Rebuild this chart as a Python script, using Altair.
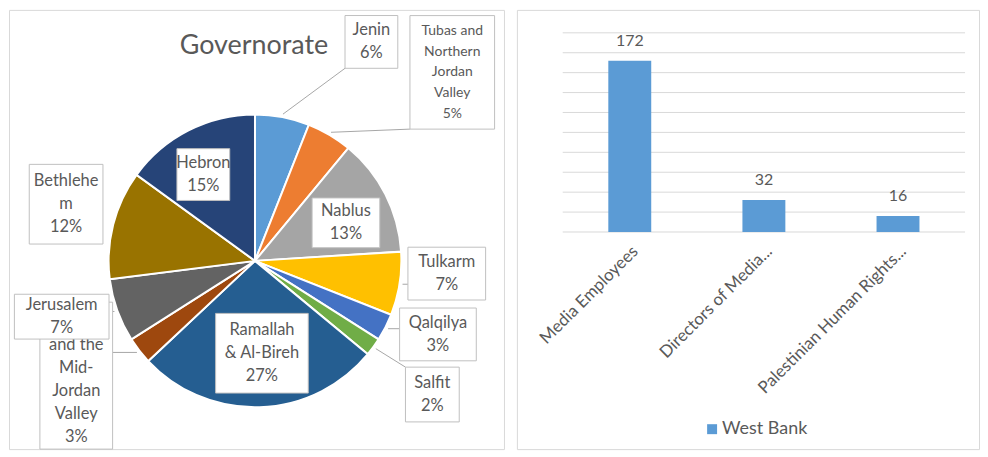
import altair as alt
import pandas as pd

# ---------------- data ----------------
gov_names = ["Jenin", "Tubas and Northern Jordan Valley", "Nablus", "Tulkarm", "Qalqilya", "Salfit",
             "Ramallah & Al-Bireh", "Jericho and the Mid-Jordan Valley", "Jerusalem", "Bethlehem", "Hebron"]
gov_pct = [6, 5, 13, 7, 3, 2, 27, 3, 7, 12, 15]
# label lines as shown (the first line of the Jericho label is hidden behind the Jerusalem box)
gov_label_text = ["Jenin", "Tubas and\nNorthern\nJordan\nValley", "Nablus", "Tulkarm", "Qalqilya", "Salfit",
                  "Ramallah\n& Al-Bireh", " \nand the\nMid-\nJordan\nValley", "Jerusalem", "Bethlehe\nm", "Hebron"]
gov_colors = ["#5B9BD5", "#ED7D31", "#A5A5A5", "#FFC000", "#4472C4", "#70AD47",
              "#255E91", "#9E480E", "#636363", "#997300", "#264478"]

bar_categories = ["Media Employees", "Directors of Media...", "Palestinian Human Rights..."]
bar_values = [172, 32, 16]
bar_series = "West Bank"
grid_ticks = [0, 20, 40, 60, 80, 100, 120, 140, 160, 180, 200]

# ---------------- layout (not data) ----------------
CX, CY, PIE_R = 247, 252, 147
lab_radius = [249, 274, 99, 193, 198, 223, 93, 215.6, 202, 198, 101]
lab_shift = [17.2, 15.7, 4.3, -5.2, -5.1, 1.0, -2.5, 4.15, 3.7, 2.3, -3.9]
box_w = [53, 85, 68, 78, 77, 54, 93, 73, 95, 74, 53]
box_h = [53, 114, 50, 53, 53, 55, 80, 156, 45, 80, 52]
has_leader = [1, 1, 0, 1, 1, 1, 0, 1, 1, 0, 0]

FONT = "Lato"
TXT = "#595959"
H = 441

labels = [f"{t}\n{p}%" for t, p in zip(gov_label_text, gov_pct)]
pie_df = pd.DataFrame({
    "idx": list(range(len(gov_names))),
    "name": gov_names,
    "pct": gov_pct,
    "label": labels,
    "nl": [s.count("\n") + 1 for s in labels],
    "r": lab_radius, "shift": lab_shift, "w": box_w, "h": box_h, "leader": has_leader,
})

pie_base = alt.Chart(pie_df).transform_window(
    cum="sum(pct)", sort=[alt.SortField("idx")], frame=[None, 0]
).transform_calculate(
    mid="(datum.cum - datum.pct / 2) * 3.6"
).transform_calculate(
    lrad="(datum.mid + datum.shift) * PI / 180",
    mrad="datum.mid * PI / 180",
).transform_calculate(
    bx=f"{CX} + datum.r * sin(datum.lrad)",
    by=f"{CY} - datum.r * cos(datum.lrad)",
    sx=f"{CX} + {PIE_R + 3} * sin(datum.mrad)",
    sy=f"{CY} - {PIE_R + 3} * cos(datum.mrad)",
).transform_calculate(
    x1="datum.bx - datum.w / 2", x2="datum.bx + datum.w / 2",
    y1="datum.by - datum.h / 2", y2=f"min(datum.by + datum.h / 2, {H})",
).transform_calculate(
    ex="clamp(datum.sx, datum.x1, datum.x2)",
    ey="clamp(datum.sy, datum.y1, datum.y2)",
)

title = alt.Chart(pd.DataFrame({"t": ["Governorate"]})).mark_text(
    font=FONT, fontSize=27, color=TXT, baseline="middle"
).encode(x=alt.value(246), y=alt.value(36), text="t:N")

arc = alt.Chart(pie_df).mark_arc(radius=PIE_R, stroke="white", strokeWidth=2).encode(
    theta=alt.Theta("pct:Q", stack=True),
    order=alt.Order("idx:Q"),
    color=alt.Color("name:N", scale=alt.Scale(domain=gov_names, range=gov_colors), legend=None),
    x=alt.value(CX), y=alt.value(CY),
)

leaders = pie_base.transform_filter("datum.leader == 1").mark_rule(color="#a6a6a6", strokeWidth=1).encode(
    x=alt.X("sx:Q", scale=None, axis=None), y=alt.Y("sy:Q", scale=None, axis=None),
    x2="ex:Q", y2="ey:Q",
)

def boxes(flt):
    return pie_base.transform_filter(flt).mark_rect(fill="white", stroke="#bfbfbf", strokeWidth=1).encode(
        x=alt.X("x1:Q", scale=None, axis=None), x2="x2:Q",
        y=alt.Y("y1:Q", scale=None, axis=None), y2="y2:Q",
    )

def texts(flt, size, lh):
    return pie_base.transform_filter(flt).transform_calculate(
        ty=f"datum.by - (datum.nl - 1) * {lh} / 2"
    ).mark_text(
        font=FONT, fontSize=size, lineHeight=lh, color=TXT, lineBreak="\n",
        align="center", baseline="middle",
    ).encode(
        x=alt.X("bx:Q", scale=None, axis=None), y=alt.Y("ty:Q", scale=None, axis=None), text="label:N",
    )

main_f = "datum.name != 'Jerusalem' && datum.idx != 1"
left = alt.layer(
    title, arc, leaders,
    boxes("datum.name != 'Jerusalem'"),
    texts(main_f, 16.5, 23),
    texts("datum.idx == 1", 14, 20.8),
    boxes("datum.name == 'Jerusalem'"),
    texts("datum.name == 'Jerusalem'", 16.5, 23),
).properties(width=497, height=H)

# ---------------- bar panel ----------------
bar_df = pd.DataFrame({"cat": bar_categories, "val": bar_values, "series": [bar_series] * len(bar_values)})
grid_df = pd.DataFrame({"v": grid_ticks})

xscale = alt.Scale(domain=bar_categories, range=[46, 450], paddingInner=0.68, paddingOuter=0.34)
yscale = alt.Scale(domain=[0, 200], range=[223, 23], nice=False)

grid = alt.Chart(grid_df).mark_rule(color="#d9d9d9", strokeWidth=1).encode(
    y=alt.Y("v:Q", scale=yscale, axis=None), x=alt.value(46), x2=alt.value(450),
)

bars = alt.Chart(bar_df).mark_bar().encode(
    x=alt.X("cat:N", scale=xscale, axis=None, sort=bar_categories),
    y=alt.Y("val:Q", scale=yscale, axis=None),
    color=alt.Color("series:N", scale=alt.Scale(domain=[bar_series], range=["#5B9BD5"]),
                    legend=alt.Legend(orient="none", legendX=187, legendY=412, title=None,
                                      symbolType="square", symbolSize=100, symbolStrokeWidth=0,
                                      labelFont=FONT, labelFontSize=18, labelColor=TXT,
                                      labelOffset=1, padding=0)),
)

vals = alt.Chart(bar_df).mark_text(font=FONT, fontSize=16, color=TXT, baseline="alphabetic", dy=-15).encode(
    x=alt.X("cat:N", scale=xscale, axis=None, sort=bar_categories),
    y=alt.Y("val:Q", scale=yscale, axis=None),
    text="val:Q",
)

cats = alt.Chart(bar_df).mark_text(font=FONT, fontSize=17, color=TXT, angle=315, align="right",
                                   baseline="middle", dx=4, dy=4).encode(
    x=alt.X("cat:N", scale=xscale, axis=None, sort=bar_categories),
    y=alt.value(240),
    text="cat:N",
)

right = alt.layer(grid, bars, vals, cats).properties(width=464, height=H)

chart = alt.hconcat(left, right, spacing=11).resolve_scale(
    color="independent", x="independent", y="independent"
).properties(padding=0, background="white").configure_view(stroke="#d9d9d9", strokeWidth=1)

chart.save("out.html", embed_options={"renderer": "svg", "actions": False})
